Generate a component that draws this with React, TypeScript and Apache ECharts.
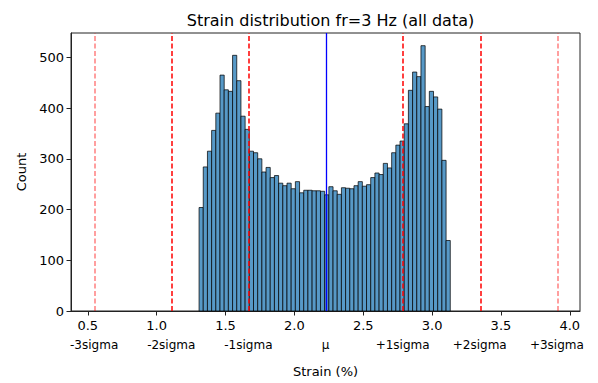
import React, { useEffect, useRef } from "react";
import * as echarts from "echarts";

const TITLE = "Strain distribution fr=3 Hz (all data)";
const X_NAME = "Strain (%)";
const Y_NAME = "Count";

// histogram: 60 equal bins
const BIN_START = 1.308;
const BIN_WIDTH = 0.0304;
const counts = [
  204, 284, 315, 356, 390, 465, 436, 433, 504, 454,
  384, 358, 315, 312, 300, 274, 283, 263, 267, 252,
  247, 252, 241, 255, 233, 238, 238, 237, 237, 236,
  229, 245, 237, 230, 243, 242, 241, 247, 255, 246,
  249, 263, 272, 269, 291, 282, 312, 327, 335, 369,
  435, 471, 462, 523, 403, 433, 422, 398, 297, 139,
];

const MU = 2.226;
const SIGMA = 0.56;
const sigmaMultipliers = [-3, -2, -1, 0, 1, 2, 3];
const sigmaLabels = ["-3sigma", "-2sigma", "-1sigma", "μ", "+1sigma", "+2sigma", "+3sigma"];

const xTicks = [0.5, 1.0, 1.5, 2.0, 2.5, 3.0, 3.5, 4.0];
const yTicks = [0, 100, 200, 300, 400, 500];
const Y_MAX = 548;

const FONT = "DejaVu Sans";

export default function App() {
  const ref = useRef<HTMLDivElement>(null);

  useEffect(() => {
    if (!ref.current) return;
    const chart = echarts.init(ref.current, undefined, { renderer: "svg" });

    const binData = counts.map((c, i) => [
      BIN_START + i * BIN_WIDTH,
      BIN_START + (i + 1) * BIN_WIDTH,
      c,
    ]);
    const sigmaValues = sigmaMultipliers.map((k) => MU + k * SIGMA);
    const xMin = MU - 3.3 * SIGMA;
    const xMax = MU + 3.3 * SIGMA;

    const markLineData = sigmaMultipliers.map((k, i) => {
      const isMu = k === 0;
      const isOuter = Math.abs(k) === 3;
      return {
        xAxis: sigmaValues[i],
        lineStyle: {
          color: isMu ? "#0000ff" : isOuter ? "rgba(255,0,0,0.5)" : "#ff0000",
          type: isMu ? "solid" : [5, 2.5],
          width: isMu ? 1.3 : 1.5,
        },
      };
    });

    chart.setOption({
      animation: false,
      backgroundColor: "#ffffff",
      title: {
        text: TITLE,
        left: 325.5,
        top: 7,
        textAlign: "center",
        textStyle: { fontFamily: FONT, fontSize: 16, fontWeight: "normal", color: "#000" },
      },
      grid: {
        left: 71,
        top: 33,
        width: 509,
        height: 283,
        show: true,
        borderColor: "#222",
        borderWidth: 1,
        backgroundColor: "transparent",
      },
      xAxis: [
        {
          type: "value",
          min: xMin,
          max: xMax,
          name: X_NAME,
          nameLocation: "middle",
          nameGap: 54,
          nameTextStyle: { fontFamily: FONT, fontSize: 13, color: "#000" },
          splitLine: { show: false },
          axisLine: { show: true, onZero: false, lineStyle: { color: "#222", width: 1 } },
          axisTick: { show: true, length: 4.5, lineStyle: { color: "#222" }, customValues: xTicks },
          axisLabel: {
            show: true,
            margin: 8,
            fontFamily: FONT,
            fontSize: 13,
            color: "#000",
            customValues: xTicks,
            formatter: (v: number) => v.toFixed(1),
          },
        },
        {
          type: "value",
          position: "bottom",
          min: xMin,
          max: xMax,
          splitLine: { show: false },
          axisLine: { show: false },
          axisTick: { show: false },
          axisLabel: {
            show: true,
            margin: 28,
            fontFamily: FONT,
            fontSize: 12,
            color: "#000",
            customValues: sigmaValues,
            formatter: (v: number) => {
              let best = 0;
              sigmaValues.forEach((s, i) => {
                if (Math.abs(s - v) < Math.abs(sigmaValues[best] - v)) best = i;
              });
              return sigmaLabels[best];
            },
          },
        },
      ],
      yAxis: {
        type: "value",
        min: 0,
        max: Y_MAX,
        name: Y_NAME,
        nameLocation: "middle",
        nameGap: 42,
        nameTextStyle: { fontFamily: FONT, fontSize: 13, color: "#000" },
        splitLine: { show: false },
        axisLine: { show: true, lineStyle: { color: "#222", width: 1 } },
        axisTick: { show: true, length: 4.5, lineStyle: { color: "#222" }, customValues: yTicks },
        axisLabel: {
          margin: 7,
          fontFamily: FONT,
          fontSize: 13,
          color: "#000",
          customValues: yTicks,
        },
      },
      series: [
        {
          type: "custom",
          xAxisIndex: 0,
          yAxisIndex: 0,
          data: binData,
          encode: { x: [0, 1], y: 2 },
          renderItem: (params: any, api: any) => {
            const p0 = api.coord([api.value(0), api.value(2)]);
            const p1 = api.coord([api.value(1), 0]);
            return {
              type: "rect",
              shape: { x: p0[0], y: p0[1], width: p1[0] - p0[0], height: p1[1] - p0[1] },
              style: { fill: "#5799c7", stroke: "rgba(0,0,0,0.72)", lineWidth: 1 },
            };
          },
          markLine: {
            silent: true,
            symbol: "none",
            label: { show: false },
            data: markLineData,
          },
        },
      ],
    });

    return () => chart.dispose();
  }, []);

  return (
    <div
      ref={ref}
      style={{ position: "fixed", left: 0, top: 0, width: 598, height: 383 }}
    />
  );
}
